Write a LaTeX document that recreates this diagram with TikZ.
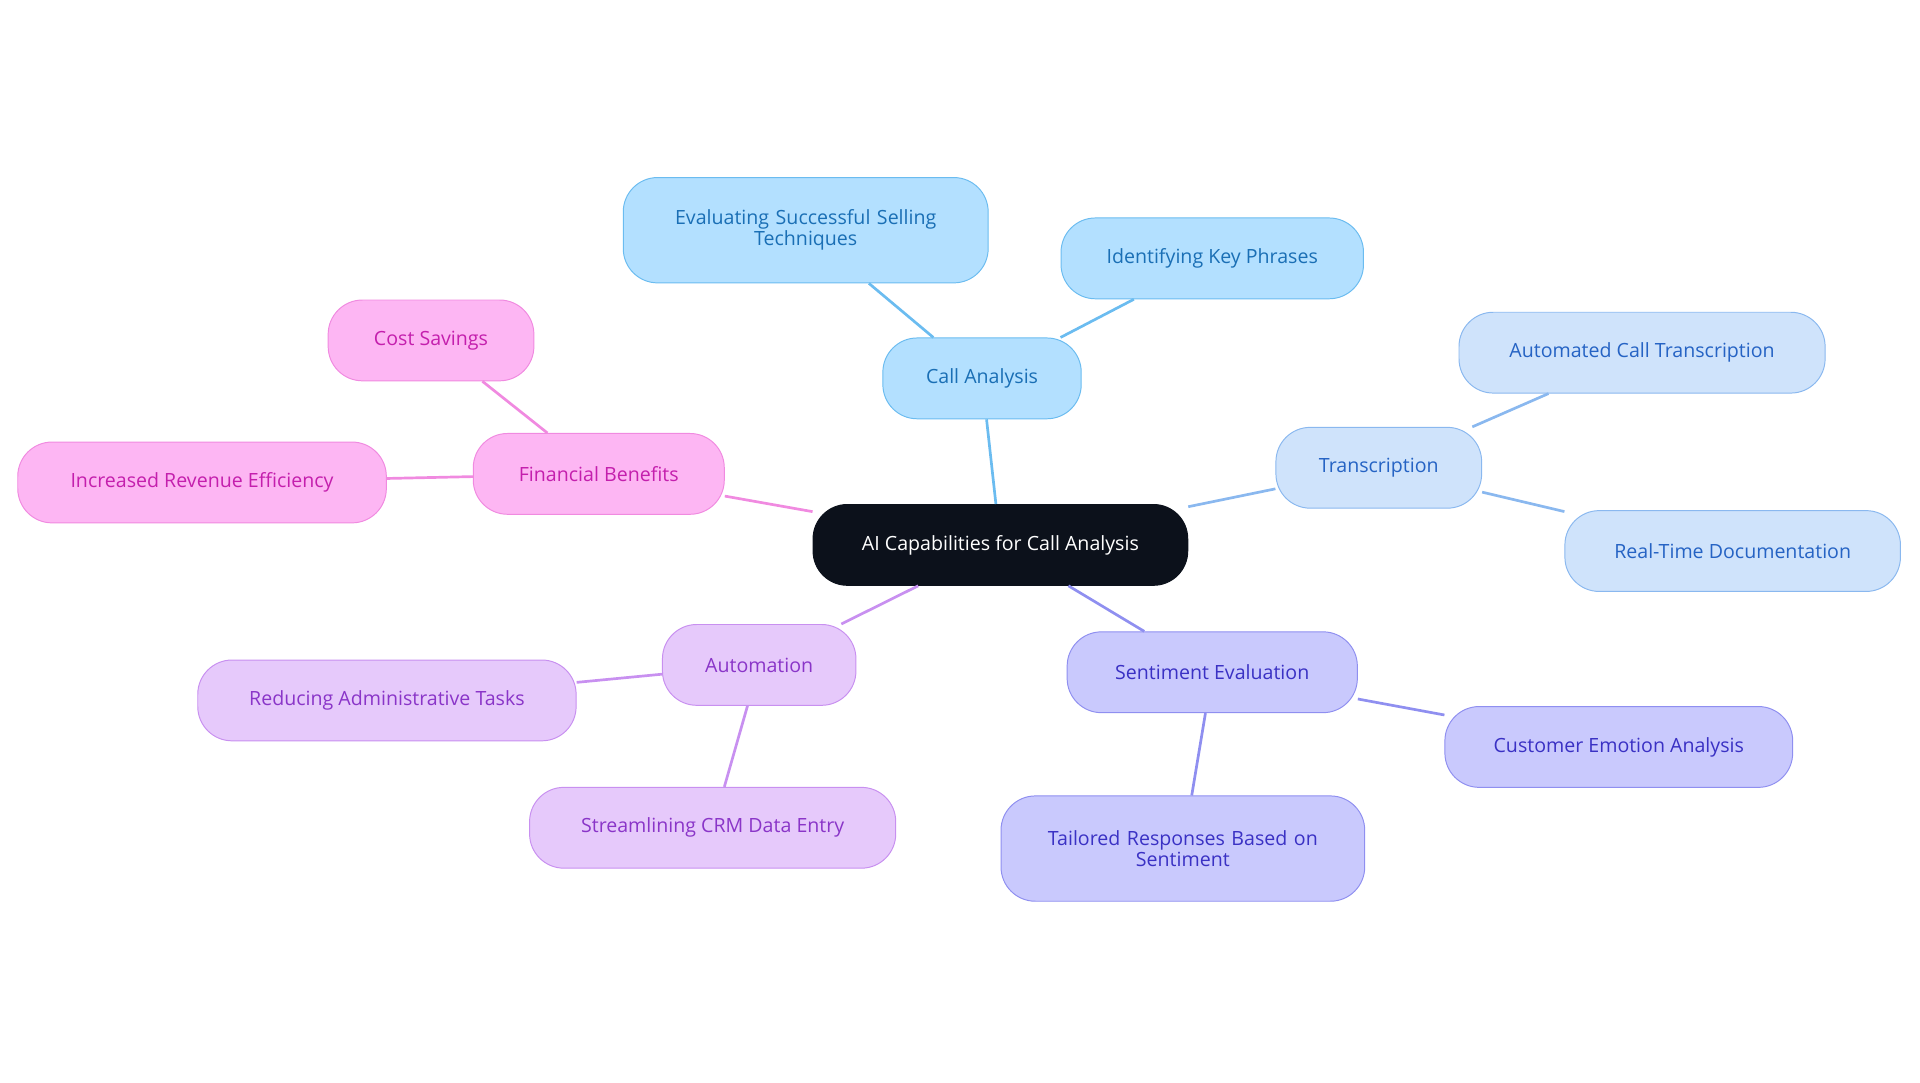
\documentclass[tikz,border=0pt]{standalone}
\usepackage{fontspec}
\setmainfont{Open Sans}
\definecolor{rootf}{HTML}{0C111B}
\definecolor{caf}{HTML}{B3E0FF}\definecolor{cad}{HTML}{6BBCF0}\definecolor{cat}{HTML}{1A6FB5}
\definecolor{trf}{HTML}{CFE3FB}\definecolor{trd}{HTML}{8AB8EF}\definecolor{trt}{HTML}{2563C4}
\definecolor{sef}{HTML}{C9C9FD}\definecolor{sed}{HTML}{8F8FF0}\definecolor{set}{HTML}{3A31C4}
\definecolor{auf}{HTML}{E6C9FB}\definecolor{aud}{HTML}{C890F0}\definecolor{aut}{HTML}{8A35C8}
\definecolor{fif}{HTML}{FDB6F3}\definecolor{fid}{HTML}{F08AE0}\definecolor{fit}{HTML}{C41FAD}
\tikzset{
 box/.style={rounded corners=28pt,minimum height=66pt,align=center,font=\fontsize{16}{17}\selectfont,inner xsep=6pt,line width=0.8pt},
 ca/.style={box,fill=caf,draw=cad,text=cat},
 tr/.style={box,fill=trf,draw=trd,text=trt},
 se/.style={box,fill=sef,draw=sed,text=set},
 au/.style={box,fill=auf,draw=aud,text=aut},
 fi/.style={box,fill=fif,draw=fid,text=fit},
 e/.style={line width=2.2pt},
}
\begin{document}
\begin{tikzpicture}[x=1pt,y=-1pt]
\useasboundingbox (0,0) rectangle (1568,884);
\node[box,fill=rootf,draw=rootf,text=white,minimum width=306pt] (r) at (817,445) {AI Capabilities for Call Analysis};
\node[ca,minimum width=162pt] (ca) at (802,309) {Call Analysis};
\node[ca,minimum width=298pt,minimum height=86pt,text width=260pt] (ca1) at (658,188) {Evaluating Successful Selling\\Techniques};
\node[ca,minimum width=247pt] (ca2) at (990,211) {Identifying Key Phrases};
\node[tr,minimum width=168pt] (tr) at (1126,382) {Transcription};
\node[tr,minimum width=299pt] (tr1) at (1341,288) {Automated Call Transcription};
\node[tr,minimum width=274pt] (tr2) at (1415,450) {Real-Time Documentation};
\node[se,minimum width=237pt] (se) at (990,549) {Sentiment Evaluation};
\node[se,minimum width=284pt] (se1) at (1322,610) {Customer Emotion Analysis};
\node[se,minimum width=297pt,minimum height=86pt,text width=260pt] (se2) at (966,693) {Tailored Responses Based on\\Sentiment};
\node[au,minimum width=158pt] (au) at (620,543) {Automation};
\node[au,minimum width=309pt] (au1) at (316,572) {Reducing Administrative Tasks};
\node[au,minimum width=299pt] (au2) at (582,676) {Streamlining CRM Data Entry};
\node[fi,minimum width=205pt] (fi) at (489,387) {Financial Benefits};
\node[fi,minimum width=168pt] (fi1) at (352,278) {Cost Savings};
\node[fi,minimum width=301pt] (fi2) at (165,394) {Increased Revenue Efficiency};
\begin{scope}[on background layer/.style={}]
\end{scope}
\draw[e,draw=cad] (r) -- (ca); \draw[e,draw=cad] (ca) -- (ca1); \draw[e,draw=cad] (ca) -- (ca2);
\draw[e,draw=trd] (r) -- (tr); \draw[e,draw=trd] (tr) -- (tr1); \draw[e,draw=trd] (tr) -- (tr2);
\draw[e,draw=sed] (r) -- (se); \draw[e,draw=sed] (se) -- (se1); \draw[e,draw=sed] (se) -- (se2);
\draw[e,draw=aud] (r) -- (au); \draw[e,draw=aud] (au) -- (au1); \draw[e,draw=aud] (au) -- (au2);
\draw[e,draw=fid] (r) -- (fi); \draw[e,draw=fid] (fi) -- (fi1); \draw[e,draw=fid] (fi) -- (fi2);
\end{tikzpicture}
\end{document}
